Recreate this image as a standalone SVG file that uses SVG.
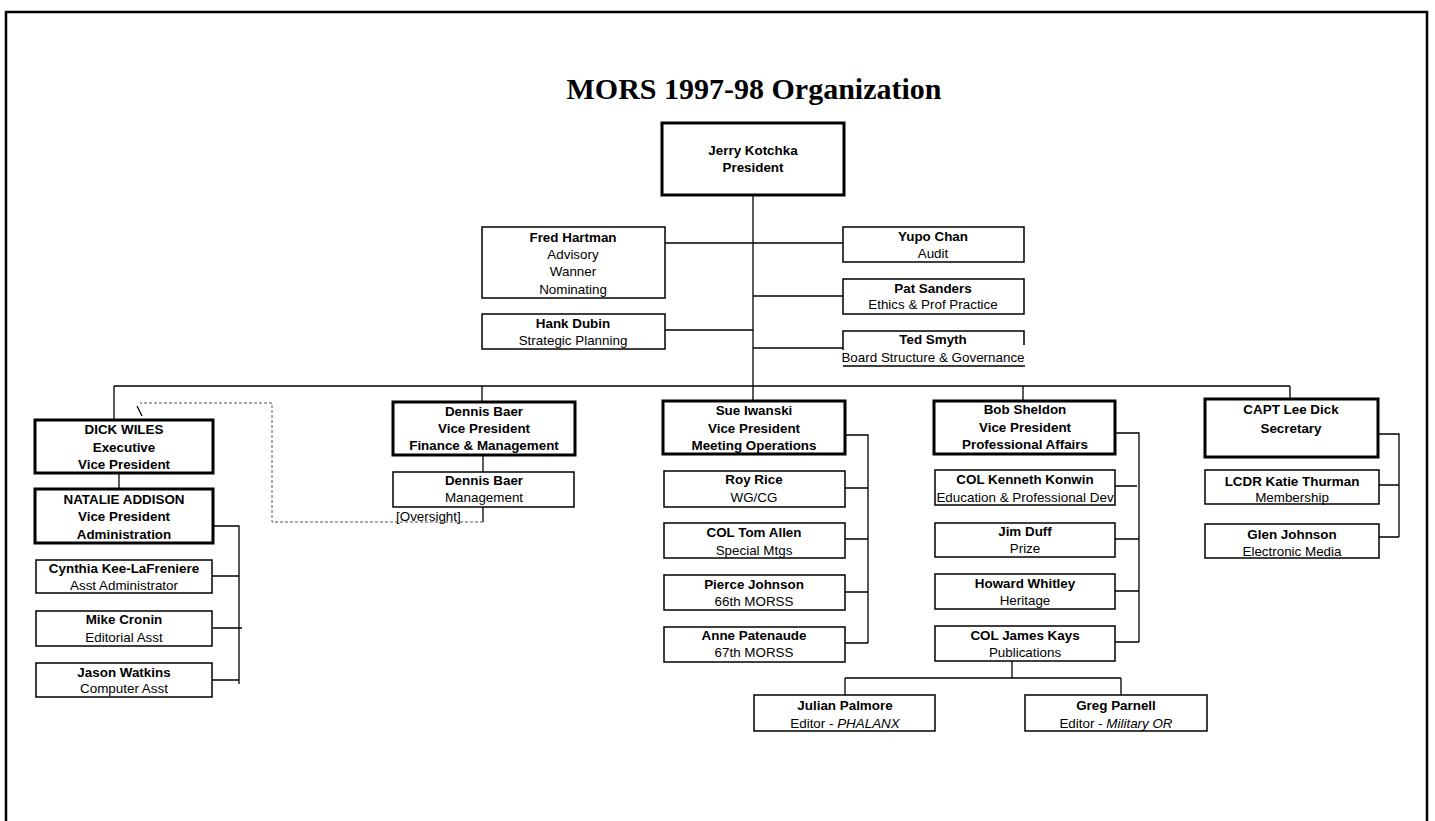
<svg xmlns="http://www.w3.org/2000/svg" width="1435" height="821" viewBox="0 0 1435 821">
<style>
.box{fill:#fff;stroke:#000;stroke-width:1.5}
.open{fill:none;stroke:#000;stroke-width:1.5}
.thick{fill:#fff;stroke:#000;stroke-width:3}
.t{font-family:"Liberation Sans",Arial,sans-serif;font-size:13.4px;text-anchor:middle;fill:#000}
.b{font-weight:bold}
.c{fill:none;stroke:#000;stroke-width:1.3}
.d{fill:none;stroke:#555;stroke-width:1;stroke-dasharray:3 2}
.title{font-family:"Liberation Serif","Times New Roman",serif;font-size:30px;font-weight:bold;text-anchor:middle;fill:#000}
</style>
<rect x="0" y="0" width="1435" height="821" fill="#fff"/>
<rect x="6" y="12" width="1421" height="830" fill="none" stroke="#000" stroke-width="2.5"/>
<text class="title" x="754" y="99">MORS 1997-98 Organization</text>

<g id="connectors">
<path class="c" d="M753 195V401"/>
<path class="c" d="M665 243H843"/>
<path class="c" d="M753 296H843"/>
<path class="c" d="M665 330H753"/>
<path class="c" d="M753 348H843"/>
<path class="c" d="M114 386H1290"/>
<path class="c" d="M114 386V420"/>
<path class="c" d="M482 386V402"/>
<path class="c" d="M1023 386V401"/>
<path class="c" d="M1290 386V399"/>
<path class="c" d="M119 473V489"/>
<path class="c" d="M213 526H239V684M212 576H239M213 628H242M212 680H239"/>
<path class="c" d="M483 455V472"/>
<path class="c" d="M483 507V522"/>
<path class="d" d="M483 522H272V403H140"/>
<path class="c" d="M137 406L142 416"/>
<path class="c" d="M845 435H868V643M845 488H868M845 539H868M845 592H868M845 643H868"/>
<path class="c" d="M1115 433H1139V642M1115 486H1137M1115 539H1139M1115 591H1139M1115 642H1139"/>
<path class="c" d="M1012 661V678M845 678H1121M845 678V695M1121 678V695"/>
<path class="c" d="M1378 434H1399V537M1379 485H1399M1378 537H1399"/>
</g>

<g id="president"><rect class="thick" x="662" y="123" width="182" height="72"/>
<text class="t b" x="753" y="155">Jerry Kotchka</text><text class="t b" x="753" y="172">President</text></g>

<g id="fred"><rect class="box" x="482" y="227" width="183" height="71"/>
<text class="t b" x="573" y="242">Fred Hartman</text><text class="t" x="573" y="259">Advisory</text><text class="t" x="573" y="276">Wanner</text><text class="t" x="573" y="294">Nominating</text></g>

<g id="hank"><rect class="box" x="482" y="314" width="183" height="35"/>
<text class="t b" x="573" y="328">Hank Dubin</text><text class="t" x="573" y="345">Strategic Planning</text></g>

<g id="yupo"><rect class="box" x="843" y="227" width="181" height="35"/>
<text class="t b" x="933" y="241">Yupo Chan</text><text class="t" x="933" y="258">Audit</text></g>

<g id="pat"><rect class="box" x="843" y="279" width="181" height="35"/>
<text class="t b" x="933" y="293">Pat Sanders</text><text class="t" x="933" y="309">Ethics &amp; Prof Practice</text></g>

<g id="ted"><path class="open" d="M843 350V331H1024V345M843 366H1025"/>
<text class="t b" x="933" y="344">Ted Smyth</text><text class="t" x="933" y="362">Board Structure &amp; Governance</text></g>

<g id="dick"><rect class="thick" x="35" y="420" width="178" height="53"/>
<text class="t b" x="124" y="434">DICK WILES</text><text class="t b" x="124" y="452">Executive</text><text class="t b" x="124" y="469">Vice President</text></g>

<g id="natalie"><rect class="thick" x="35" y="489" width="178" height="54"/>
<text class="t b" x="124" y="504">NATALIE ADDISON</text><text class="t b" x="124" y="521">Vice President</text><text class="t b" x="124" y="539">Administration</text></g>

<g id="cynthia"><rect class="box" x="36" y="560" width="176" height="33"/>
<text class="t b" x="124" y="573">Cynthia Kee-LaFreniere</text><text class="t" x="124" y="590">Asst Administrator</text></g>

<g id="mike"><rect class="box" x="36" y="611" width="176" height="35"/>
<text class="t b" x="124" y="624">Mike Cronin</text><text class="t" x="124" y="642">Editorial Asst</text></g>

<g id="jason"><rect class="box" x="36" y="663" width="176" height="34"/>
<text class="t b" x="124" y="677">Jason Watkins</text><text class="t" x="124" y="693">Computer Asst</text></g>

<g id="dennis-vp"><rect class="thick" x="393" y="402" width="182" height="53"/>
<text class="t b" x="484" y="416">Dennis Baer</text><text class="t b" x="484" y="433">Vice President</text><text class="t b" x="484" y="450">Finance &amp; Management</text></g>

<g id="dennis-mgmt"><rect class="box" x="393" y="472" width="181" height="35"/>
<text class="t b" x="484" y="485">Dennis Baer</text><text class="t" x="484" y="502">Management</text></g>
<g id="oversight"><text class="t" x="396" y="521" style="text-anchor:start">[Oversight]</text></g>

<g id="sue"><rect class="thick" x="663" y="401" width="182" height="53"/>
<text class="t b" x="754" y="415">Sue Iwanski</text><text class="t b" x="754" y="433">Vice President</text><text class="t b" x="754" y="450">Meeting Operations</text></g>

<g id="roy"><rect class="box" x="664" y="471" width="181" height="36"/>
<text class="t b" x="754" y="484">Roy Rice</text><text class="t" x="754" y="502">WG/CG</text></g>

<g id="tom"><rect class="box" x="664" y="523" width="181" height="35"/>
<text class="t b" x="754" y="537">COL Tom Allen</text><text class="t" x="754" y="555">Special Mtgs</text></g>

<g id="pierce"><rect class="box" x="664" y="575" width="181" height="35"/>
<text class="t b" x="754" y="589">Pierce Johnson</text><text class="t" x="754" y="606">66th MORSS</text></g>

<g id="anne"><rect class="box" x="664" y="627" width="181" height="35"/>
<text class="t b" x="754" y="640">Anne Patenaude</text><text class="t" x="754" y="657">67th MORSS</text></g>

<g id="bob"><rect class="thick" x="934" y="401" width="181" height="53"/>
<text class="t b" x="1025" y="414">Bob Sheldon</text><text class="t b" x="1025" y="432">Vice President</text><text class="t b" x="1025" y="449">Professional Affairs</text></g>

<g id="konwin"><rect class="box" x="935" y="470" width="180" height="35"/>
<text class="t b" x="1025" y="484">COL Kenneth Konwin</text><text class="t" x="1025" y="502">Education &amp; Professional Dev</text></g>

<g id="duff"><rect class="box" x="935" y="523" width="180" height="34"/>
<text class="t b" x="1025" y="536">Jim Duff</text><text class="t" x="1025" y="553">Prize</text></g>

<g id="howard"><rect class="box" x="935" y="574" width="180" height="35"/>
<text class="t b" x="1025" y="588">Howard Whitley</text><text class="t" x="1025" y="605">Heritage</text></g>

<g id="kays"><rect class="box" x="935" y="626" width="180" height="35"/>
<text class="t b" x="1025" y="640">COL James Kays</text><text class="t" x="1025" y="657">Publications</text></g>

<g id="julian"><rect class="box" x="754" y="695" width="181" height="36"/>
<text class="t b" x="845" y="710">Julian Palmore</text><text class="t" x="845" y="728">Editor - <tspan font-style="italic">PHALANX</tspan></text></g>

<g id="greg"><rect class="box" x="1025" y="695" width="182" height="36"/>
<text class="t b" x="1116" y="710">Greg Parnell</text><text class="t" x="1116" y="728">Editor - <tspan font-style="italic">Military OR</tspan></text></g>

<g id="capt"><rect class="thick" x="1205" y="399" width="173" height="58"/>
<text class="t b" x="1291" y="414">CAPT Lee Dick</text><text class="t b" x="1291" y="433">Secretary</text></g>

<g id="lcdr"><rect class="box" x="1205" y="470" width="174" height="34"/>
<text class="t b" x="1292" y="486">LCDR Katie Thurman</text><text class="t" x="1292" y="502">Membership</text></g>

<g id="glen"><rect class="box" x="1205" y="524" width="174" height="34"/>
<text class="t b" x="1292" y="539">Glen Johnson</text><text class="t" x="1292" y="556">Electronic Media</text></g>
</svg>
